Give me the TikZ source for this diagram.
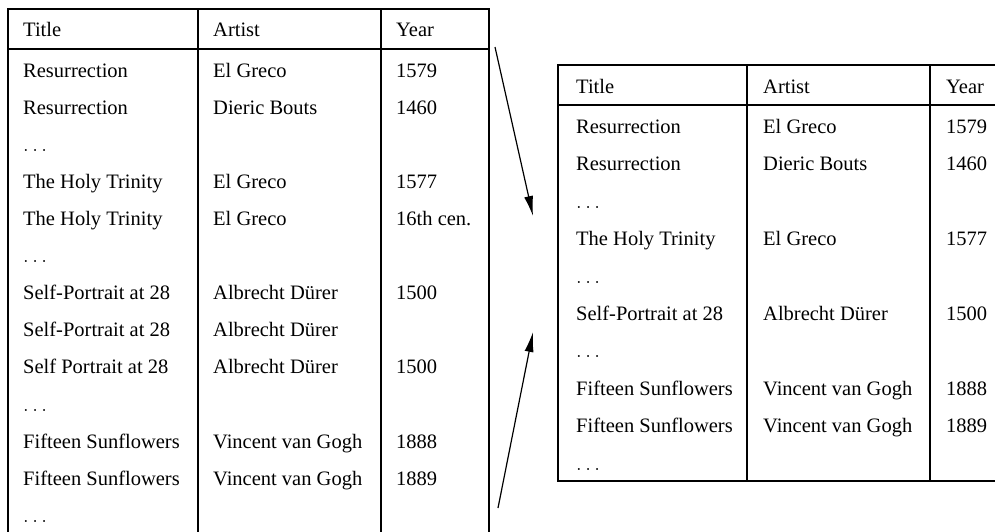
\documentclass[tikz,border=0pt]{standalone}
\usepackage{fontspec}
\setmainfont{Liberation Serif}
\usetikzlibrary{arrows.meta}
\tikzset{
  cell/.style={anchor=base west,inner sep=0pt,font=\fontsize{20.5}{24}\selectfont},
  rule/.style={line width=1.4pt},
  move/.style={line width=1.2pt,-{Latex[length=20pt,width=9pt]}}
}
\newcommand{\skipped}{$\ldots$}

\begin{document}
\begin{tikzpicture}[x=1pt,y=-1pt]
\useasboundingbox (0,0) rectangle (995,532);
% left table (all records)
\draw[rule] (8,532) -- (8,9) -- (489,9) -- (489,532);
\draw[rule] (8,49) -- (489,49);
\foreach \x in {198,381}{
  \draw[rule] (\x,9) -- (\x,532);
}
\node[cell] (L-0-1) at (23,37) {Title};
\node[cell] (L-0-2) at (213,37) {Artist};
\node[cell] (L-0-3) at (396,37) {Year};
\foreach \t/\a/\y [count=\r] in {Resurrection/El Greco/1579,
    Resurrection/Dieric Bouts/1460, \skipped/{}/{},
    The Holy Trinity/El Greco/1577, The Holy Trinity/El Greco/16th cen.,
    \skipped/{}/{}, Self-Portrait at 28/Albrecht Dürer/1500,
    Self-Portrait at 28/Albrecht Dürer/{}, Self Portrait at 28/Albrecht Dürer/1500,
    \skipped/{}/{}, Fifteen Sunflowers/Vincent van Gogh/1888,
    Fifteen Sunflowers/Vincent van Gogh/1889, \skipped/{}/{}}{
  \node[cell] (L-\r-1) at (23,40+37.1*\r) {\t};
  \node[cell] (L-\r-2) at (213,40+37.1*\r) {\a};
  \node[cell] (L-\r-3) at (396,40+37.1*\r) {\y};
}
% right table (duplicates removed)
\draw[rule] (995,65) -- (558,65) -- (558,481) -- (995,481);
\draw[rule] (558,105) -- (995,105);
\foreach \x in {747,930}{
  \draw[rule] (\x,65) -- (\x,481);
}
\node[cell] (R-0-1) at (576,94) {Title};
\node[cell] (R-0-2) at (763,94) {Artist};
\node[cell] (R-0-3) at (946,94) {Year};
\foreach \t/\a/\y [count=\r] in {Resurrection/El Greco/1579,
    Resurrection/Dieric Bouts/1460, \skipped/{}/{},
    The Holy Trinity/El Greco/1577, \skipped/{}/{},
    Self-Portrait at 28/Albrecht Dürer/1500, \skipped/{}/{},
    Fifteen Sunflowers/Vincent van Gogh/1888,
    Fifteen Sunflowers/Vincent van Gogh/1889, \skipped/{}/{}}{
  \node[cell] (R-\r-1) at (576,96.1+37.4*\r) {\t};
  \node[cell] (R-\r-2) at (763,96.1+37.4*\r) {\a};
  \node[cell] (R-\r-3) at (946,96.1+37.4*\r) {\y};
}
% arrows
\coordinate (top-from) at (495,47);
\coordinate (top-to) at (533,216);
\coordinate (bot-from) at (498,508);
\coordinate (bot-to) at (533,332);
\draw[move] (top-from) -- (top-to);
\draw[move] (bot-from) -- (bot-to);
\end{tikzpicture}
\end{document}
